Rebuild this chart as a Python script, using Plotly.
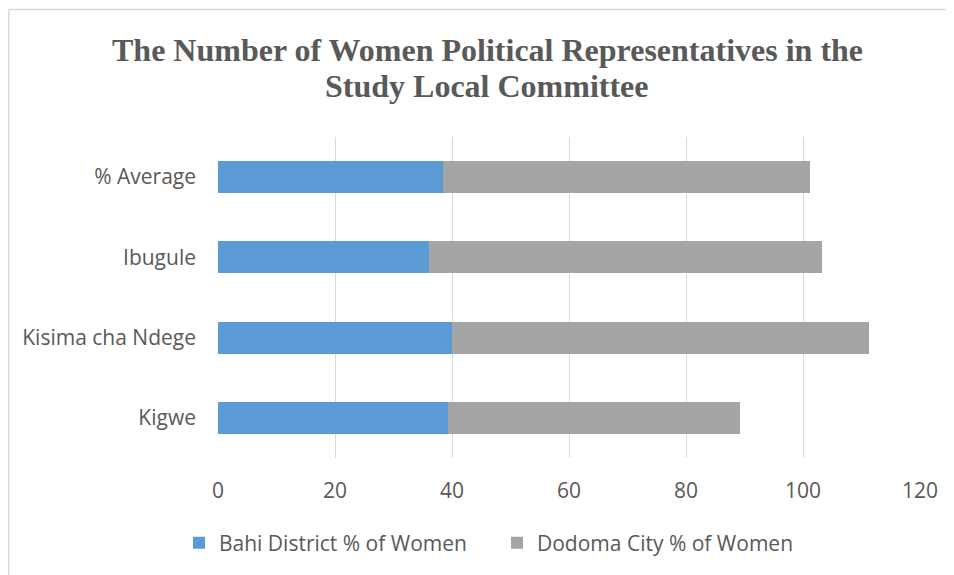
import plotly.graph_objects as go

categories = ["Kigwe", "Kisima cha Ndege", "Ibugule", "% Average"]
bahi = [39.3, 40.0, 36.0, 38.4]
dodoma = [50.0, 71.2, 67.2, 62.8]
x_ticks = [0, 20, 40, 60, 80, 100, 120]
title_lines = ["The Number of Women Political Representatives in the", "Study Local Committee"]

GRAY_TXT = "#595959"
FONT = "Open Sans"

fig = go.Figure()
fig.add_trace(go.Bar(y=categories, x=bahi, orientation="h", name="Bahi District % of Women",
                     marker=dict(color="#5b9bd5", line=dict(width=0))))
fig.add_trace(go.Bar(y=categories, x=dodoma, orientation="h", name="Dodoma City % of Women",
                     marker=dict(color="#a5a5a5", line=dict(width=0))))

# page is rendered with an 8px body margin; figure coords = page coords - 8
L, R, T, B = 210, 42, 129, 125
W, H = 954, 575
pw, ph = W - L - R, H - T - B
bx = (0.8 - L) / pw
by = 1 + (T - 1.5) / ph

annotations = [
    dict(text=title_lines[0], xref="paper", yref="paper", x=(479 - L) / pw, y=1 + (T - 42) / ph,
         xanchor="center", yanchor="middle", showarrow=False,
         font=dict(family="Liberation Serif", size=32, color=GRAY_TXT, weight="bold")),
    dict(text=title_lines[1], xref="paper", yref="paper", x=(479 - L) / pw, y=1 + (T - 78) / ph,
         xanchor="center", yanchor="middle", showarrow=False,
         font=dict(family="Liberation Serif", size=32, color=GRAY_TXT, weight="bold")),
]

fig.update_layout(
    width=W, height=H,
    barmode="stack", bargap=0.6,
    plot_bgcolor="white", paper_bgcolor="white",
    margin=dict(l=L, r=R, t=T, b=B),
    annotations=annotations,
    xaxis=dict(range=[0, 120], tickvals=x_ticks, showgrid=True, gridcolor="#d9d9d9", gridwidth=1.3,
               zeroline=False, showline=False, ticks="", ticklabelstandoff=18,
               tickfont=dict(family=FONT, size=21, color=GRAY_TXT)),
    yaxis=dict(showgrid=False, zeroline=False, showline=False, ticks="", ticklabelstandoff=21,
               tickfont=dict(family=FONT, size=21, color=GRAY_TXT)),
    legend=dict(orientation="h", x=(171 - L) / pw, xanchor="left", y=-0.265, yanchor="middle",
                font=dict(family=FONT, size=21, color=GRAY_TXT), traceorder="normal",
                itemwidth=30, entrywidth=273, entrywidthmode="pixels"),
    showlegend=True,
    shapes=[
        dict(type="line", xref="paper", yref="paper", x0=bx, x1=bx, y0=by, y1=-0.6,
             line=dict(color="#d9d9d9", width=1.5)),
        dict(type="line", xref="paper", yref="paper", x0=bx, x1=1.2, y0=by, y1=by,
             line=dict(color="#d9d9d9", width=1.5)),
    ],
)

fig.write_html("out.html")
